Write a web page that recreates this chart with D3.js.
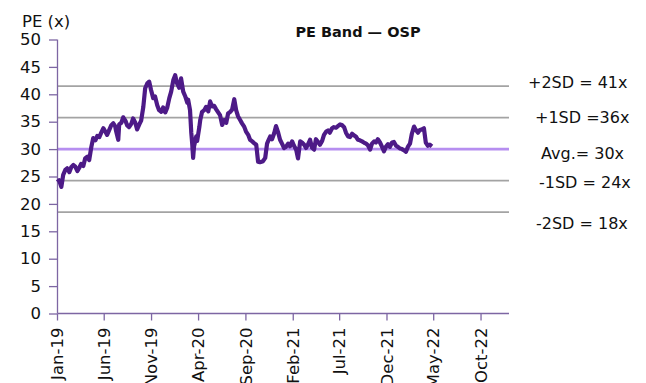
<!DOCTYPE html>
<html>
<head>
<meta charset="utf-8">
<script src="https://cdn.jsdelivr.net/npm/d3@7"></script>
<style>
  body { margin: 0; background: #fff; }
  text { font-family: "DejaVu Sans", Verdana, sans-serif; fill: #111; }
</style>
</head>
<body>
<svg id="drawing_region"></svg>
<script>
// PE series (date, PE multiple)
const peDates = [
  "2019-01-02","2019-01-08","2019-01-15","2019-01-21","2019-01-28","2019-02-03","2019-02-10","2019-02-16","2019-02-23","2019-03-01",
  "2019-03-08","2019-03-14","2019-03-20","2019-03-27","2019-04-02","2019-04-09","2019-04-15","2019-04-22","2019-04-28","2019-05-05",
  "2019-05-11","2019-05-18","2019-05-24","2019-05-31","2019-06-06","2019-06-12","2019-06-19","2019-06-25","2019-07-02","2019-07-08",
  "2019-07-11","2019-07-18","2019-07-21","2019-07-28","2019-08-03","2019-08-10","2019-08-16","2019-08-22","2019-08-29","2019-09-04",
  "2019-09-11","2019-09-17","2019-09-24","2019-09-30","2019-10-07","2019-10-13","2019-10-20","2019-10-26","2019-11-01","2019-11-08",
  "2019-11-14","2019-11-21","2019-11-27","2019-12-04","2019-12-10","2019-12-17","2019-12-23","2019-12-30","2020-01-05","2020-01-12",
  "2020-01-18","2020-01-24","2020-01-31","2020-02-06","2020-02-13","2020-02-19","2020-02-26","2020-02-29","2020-03-06","2020-03-10",
  "2020-03-13","2020-03-16","2020-03-19","2020-03-26","2020-03-29","2020-04-05","2020-04-08","2020-04-14","2020-04-21","2020-04-27",
  "2020-05-04","2020-05-10","2020-05-16","2020-05-23","2020-05-29","2020-06-05","2020-06-11","2020-06-18","2020-06-24","2020-07-01",
  "2020-07-07","2020-07-14","2020-07-20","2020-07-27","2020-08-02","2020-08-08","2020-08-15","2020-08-21","2020-08-28","2020-09-03",
  "2020-09-10","2020-09-16","2020-09-23","2020-09-29","2020-10-06","2020-10-12","2020-10-18","2020-10-28","2020-11-04","2020-11-10",
  "2020-11-13","2020-11-20","2020-11-26","2020-12-03","2020-12-09","2020-12-16","2020-12-22","2020-12-29","2021-01-04","2021-01-10",
  "2021-01-17","2021-01-23","2021-01-30","2021-02-05","2021-02-12","2021-02-18","2021-02-25","2021-03-03","2021-03-10","2021-03-16",
  "2021-03-22","2021-03-29","2021-04-04","2021-04-11","2021-04-17","2021-04-24","2021-04-30","2021-05-07","2021-05-13","2021-05-20",
  "2021-05-26","2021-06-01","2021-06-08","2021-06-14","2021-06-21","2021-06-27","2021-07-04","2021-07-10","2021-07-17","2021-07-23",
  "2021-07-30","2021-08-05","2021-08-12","2021-08-18","2021-08-24","2021-08-31","2021-09-06","2021-09-13","2021-09-19","2021-09-26",
  "2021-10-02","2021-10-09","2021-10-15","2021-10-22","2021-10-28","2021-11-03","2021-11-10","2021-11-16","2021-11-23","2021-11-29",
  "2021-12-06","2021-12-12","2021-12-19","2021-12-25","2022-01-01","2022-01-07","2022-01-14","2022-01-20","2022-01-26","2022-02-02",
  "2022-02-08","2022-02-15","2022-02-21","2022-02-28","2022-03-06","2022-03-13","2022-03-19","2022-03-26","2022-04-01","2022-04-07",
  "2022-04-14","2022-04-20","2022-04-27"
];
const peValues = [
  24.0,24.3,23.1,25.3,26.2,26.5,25.8,26.7,27.1,26.8,
  26.0,26.6,27.3,26.9,28.3,28.6,28.0,30.4,32.0,31.6,
  32.4,32.2,33.0,33.8,33.2,32.6,33.5,34.3,34.7,34.2,
  33.3,31.7,34.5,34.8,35.8,35.2,34.3,34.0,34.6,35.6,
  34.8,33.6,34.5,35.2,37.7,41.1,42.0,42.3,40.8,39.3,
  39.6,38.0,37.1,36.8,37.6,36.7,37.5,39.3,40.5,42.6,
  43.5,42.0,41.2,42.9,40.5,39.7,38.5,39.0,37.1,33.0,
  31.0,28.4,30.5,32.3,31.5,34.0,35.3,36.8,37.1,37.7,
  36.9,38.7,37.8,37.9,37.3,36.7,36.2,34.4,35.3,34.8,
  36.5,36.8,37.2,39.1,37.1,36.0,35.3,34.7,34.1,33.2,
  32.6,31.7,31.4,31.1,30.8,27.7,27.6,27.8,28.4,31.0,
  31.4,32.3,31.8,32.9,34.2,33.0,31.7,30.9,30.2,30.4,
  31.0,30.5,31.4,30.6,29.9,28.3,31.4,31.2,30.8,30.2,
  30.8,31.7,30.3,29.9,31.8,31.3,30.8,31.5,32.6,33.2,
  33.4,33.0,33.8,34.0,33.9,34.2,34.5,34.4,34.0,33.0,
  32.3,32.2,32.8,32.5,32.3,31.7,31.6,31.4,31.2,31.0,
  30.7,29.9,31.0,31.4,31.2,31.8,31.2,30.5,29.6,30.4,
  30.9,30.4,31.2,31.3,30.6,30.4,30.1,30.0,29.8,29.5,
  30.4,31.0,32.8,34.1,33.5,33.0,33.5,33.6,33.8,31.2,
  30.6,30.8,30.5
];

// band levels: +2SD, +1SD, avg, -1SD, -2SD
const bandValues = [41.5, 35.75, 30.0, 24.25, 18.5];
const bandLabels = ["+2SD = 41x", "+1SD =36x", "Avg.= 30x", "-1SD = 24x", "-2SD = 18x"];

const xTickLabels = ["Jan-19","Jun-19","Nov-19","Apr-20","Sep-20","Feb-21","Jul-21","Dec-21","May-22","Oct-22"];
const yTicks = [0, 5, 10, 15, 20, 25, 30, 35, 40, 45, 50];
const xDomain = ["2019-01-01", "2023-01-01"];

const config = {
    width: 646,
    height: 383,
    margin: {top: 39.5, right: 137, bottom: 69.5, left: 57}
};

const parseDay = d3.timeParse("%Y-%m-%d");
const parseTick = d3.timeParse("%b-%y");
const data = peDates.map((d, i) => ({date: parseDay(d), value: peValues[i]}));

const svg = d3.select('#drawing_region')
    .attr('width', config.width)
    .attr('height', config.height);

const inner_width = config.width - config.margin.left - config.margin.right;
const inner_height = config.height - config.margin.top - config.margin.bottom;

const chart = svg.append('g')
    .attr('transform', `translate(${config.margin.left}, ${config.margin.top})`);

const xscale = d3.scaleTime()
    .domain(xDomain.map(parseDay))
    .range([0, inner_width]);

const yscale = d3.scaleLinear()
    .domain([0, 50])
    .range([inner_height, 0]);

// band lines (grey) and average (light purple)
chart.selectAll('.band')
    .data(bandValues)
    .enter()
    .append('line')
    .attr('x1', 0)
    .attr('x2', inner_width)
    .attr('y1', d => yscale(d))
    .attr('y2', d => yscale(d))
    .attr('stroke', (d, i) => i == 2 ? '#b68ef0' : '#a3a3a3')
    .attr('stroke-width', (d, i) => i == 2 ? 2.8 : 1.8);

// axes
const axisColor = '#7d66a3';

const yaxis = d3.axisLeft(yscale)
    .tickValues(yTicks)
    .tickSize(8)
    .tickPadding(8);

const xaxis = d3.axisBottom(xscale)
    .tickValues(xTickLabels.map(parseTick))
    .tickFormat((d, i) => xTickLabels[i])
    .tickSize(7);

const yaxis_group = chart.append('g').call(yaxis);
const xaxis_group = chart.append('g')
    .attr('transform', `translate(0, ${inner_height})`)
    .call(xaxis);

[yaxis_group, xaxis_group].forEach(g => {
    g.select('.domain').attr('stroke', axisColor).attr('stroke-width', 1.3);
    g.selectAll('.tick line').attr('stroke', axisColor).attr('stroke-width', 1.3);
    g.selectAll('.tick text')
        .attr('fill', '#111')
        .style('font-family', '"DejaVu Sans", Verdana, sans-serif')
        .style('font-size', '16.5px');
});
xaxis_group.select('.domain').attr('d', `M0.5,0H${inner_width}`);
yaxis_group.select('.domain').attr('d', `M0.5,0V${inner_height}`);

xaxis_group.selectAll('.tick text')
    .attr('text-anchor', 'end')
    .attr('transform', 'rotate(-90)')
    .attr('x', -14)
    .attr('y', 0)
    .attr('dy', '0.35em');

// PE line
const line = d3.line()
    .x(d => xscale(d.date))
    .y(d => yscale(d.value));

chart.append('path')
    .datum(data)
    .attr('fill', 'none')
    .attr('stroke', '#4d1a87')
    .attr('stroke-width', 4.2)
    .attr('stroke-linejoin', 'round')
    .attr('d', line);

// texts
svg.append('text')
    .attr('x', 22)
    .attr('y', 27)
    .style('font-size', '16.5px')
    .text('PE (x)');

svg.append('text')
    .attr('x', 358)
    .attr('y', 37)
    .attr('text-anchor', 'middle')
    .style('font-size', '14.5px')
    .style('font-weight', 'bold')
    .text('PE Band \u2014 OSP');

// side labels (manually placed text boxes in the source)
const labelX = [528, 535, 541, 539, 536];
const labelDy = [-4, 0, 4, 2, 11];
svg.selectAll('.band-label')
    .data(bandLabels)
    .enter()
    .append('text')
    .attr('x', (d, i) => labelX[i])
    .attr('y', (d, i) => config.margin.top + yscale(bandValues[i]) + labelDy[i])
    .attr('dy', '0.35em')
    .style('font-size', '16px')
    .text(d => d);
</script>
</body>
</html>
